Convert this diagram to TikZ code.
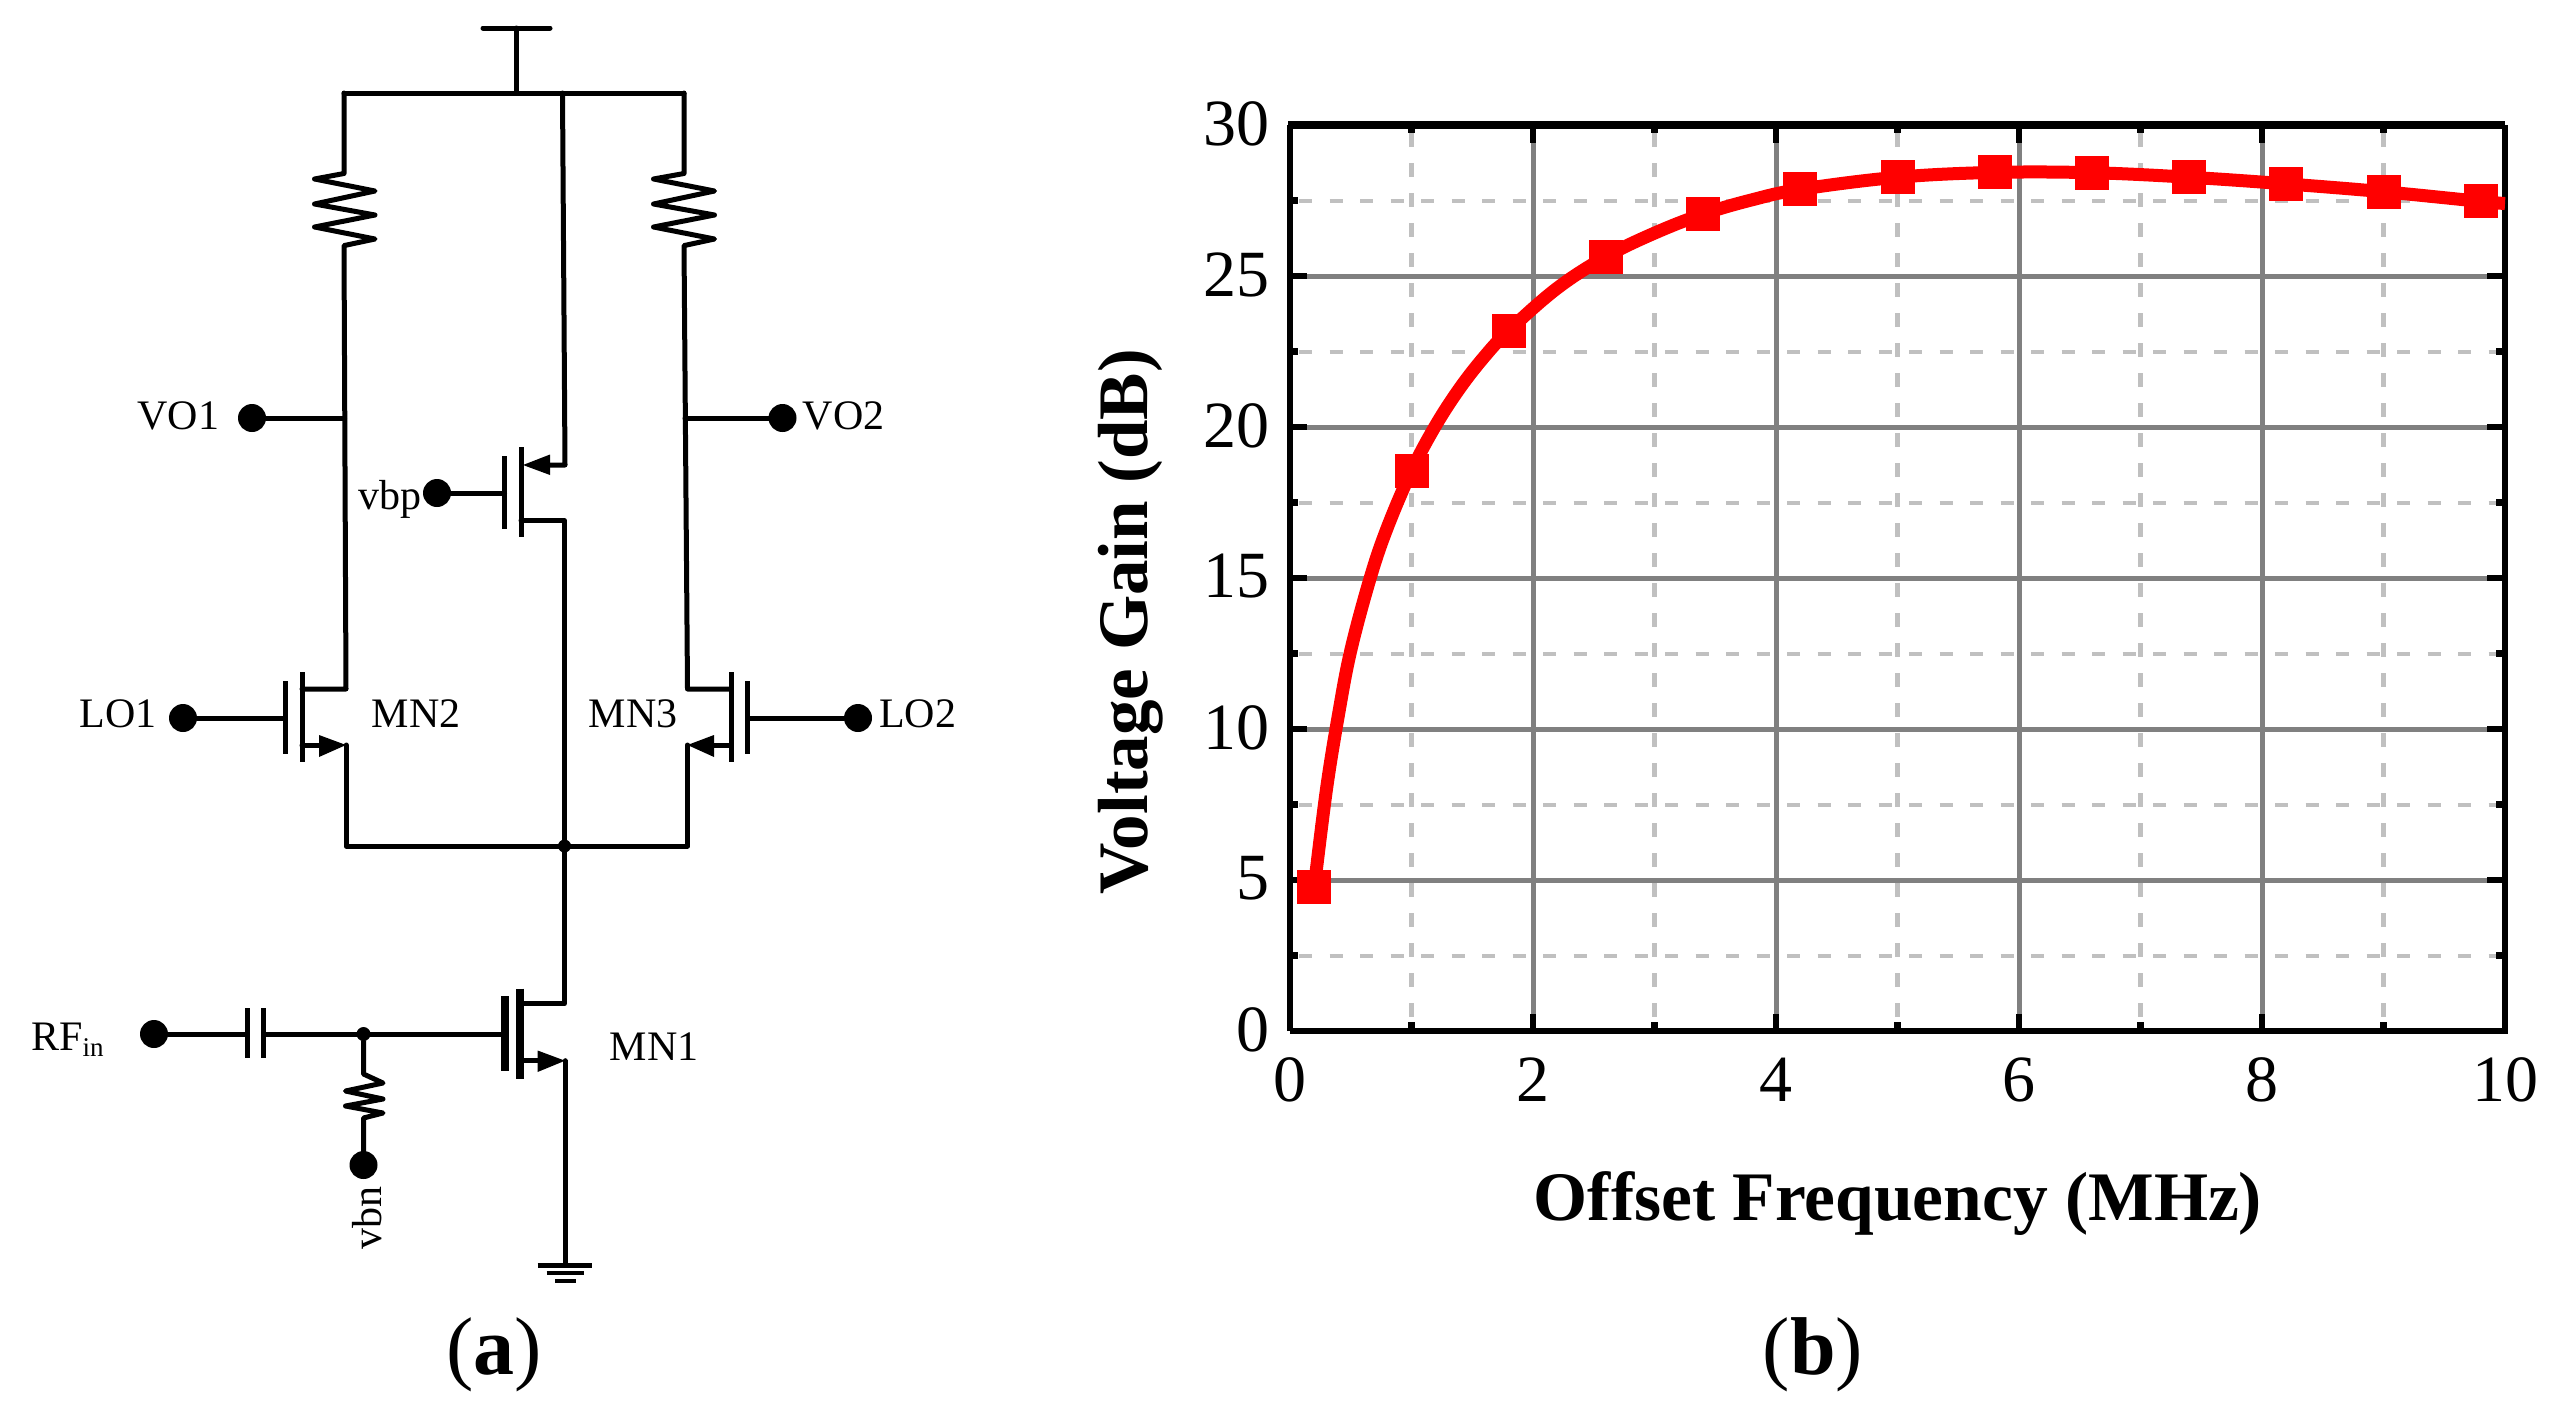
\documentclass[tikz,border=0pt]{standalone}
\usepackage{fontspec}
\setmainfont{Liberation Serif}
\usetikzlibrary{calc}
\definecolor{majgrid}{RGB}{128,128,128}
\definecolor{mingrid}{RGB}{192,192,192}
\definecolor{curvered}{RGB}{255,0,0}
\tikzset{
  wire/.style={line width=5pt,line cap=round,line join=round},
  plate/.style={line width=5pt,line cap=butt},
  thickplate/.style={line width=8pt,line cap=butt},
  termdot/.style={circle,fill=black,draw=none,minimum size=28pt,inner sep=0pt},
  smalldot/.style={circle,fill=black,draw=none,minimum size=14pt,inner sep=0pt},
  lbl/.style={font=\fontsize{42}{42}\selectfont,inner sep=0pt,anchor=base},
  ticklbl/.style={font=\fontsize{66}{66}\selectfont,inner sep=0pt},
  axtitle/.style={font=\fontsize{69.5}{70}\selectfont\bfseries,inner sep=0pt},
  axtitley/.style={font=\fontsize{71}{71}\selectfont\bfseries,inner sep=0pt},
  caption/.style={font=\fontsize{82}{82}\selectfont,inner sep=0pt},
  majorgrid/.style={draw=majgrid,line width=5pt},
  minorgridh/.style={draw=mingrid,line width=4pt,dash pattern=on 13pt off 17.5pt},
  minorgridv/.style={draw=mingrid,line width=4.5pt,dash pattern=on 14pt off 16pt},
  axisline/.style={line width=6pt,line cap=square},
  tickmark/.style={line width=6.5pt},
  curveline/.style={draw=curvered,line width=13pt,line join=round},
  sqmark/.style={rectangle,fill=curvered,draw=none,minimum size=34pt,inner sep=0pt},
  arrowhead/.style={fill=black,draw=none}
}
\begin{document}
\begin{tikzpicture}[x=1pt,y=-1pt]
\useasboundingbox (0,0) rectangle (2559,1416);

% ---------- circuit (a) ----------
% supply
\coordinate (vddl) at (483,28);
\coordinate (vddr) at (550,28);
\coordinate (vddm) at (516,28);
\coordinate (busl) at (344,93);
\coordinate (busr) at (684,93);
\coordinate (busm) at (516,93);
\coordinate (busc) at (562.5,93);
\draw[wire] (vddl) -- (vddr);
\draw[wire] (vddm) -- (busm);
\draw[wire] (busl) -- (busr);

% load resistors
\draw[wire] (busl) -- (344,173.5) -- (314.5,179) -- (375,191) -- (314.5,204) -- (375,215) -- (314.5,227) -- (375,239) -- (344,245.6) -- (346,689) -- (302,689);
\draw[wire] (busr) -- (684,173.5) -- (653.5,179) -- (714.5,191) -- (653.5,204) -- (714.5,215) -- (653.5,227) -- (714.5,239) -- (684,245.6) -- (687.5,689) -- (731,689);

% tail node
\node[smalldot,minimum size=13pt] (tail) at (564.5,846) {};
\draw[wire] (346,745) -- (346,846) -- (687.5,846) -- (687.5,745);

% PMOS
\coordinate (pgate) at (504.5,493);
\node[termdot] (vbpdot) at (437,493) {};
\draw[wire] (vbpdot) -- (pgate);
\draw[plate] (504.5,456) -- (504.5,529);
\draw[plate] (521,447) -- (521,537);
\draw[wire] (busc) -- (565,465) -- (545,465);
\fill[arrowhead] (523,465) -- (550,454.5) -- (550,475) -- cycle;
\draw[wire] (521,520.6) -- (564.5,520.6) -- (tail.center);

% MN2
\node[termdot] (lo1dot) at (183,718) {};
\draw[wire] (lo1dot) -- (285,718);
\draw[plate] (285,681) -- (285,754);
\draw[plate] (302,672) -- (302,762);
\draw[wire] (302,745) -- (325,745);
\fill[arrowhead] (346,745) -- (319,735) -- (319,757) -- cycle;

% MN3
\node[termdot] (lo2dot) at (858,718) {};
\draw[wire] (lo2dot) -- (747.5,718);
\draw[plate] (747.5,681) -- (747.5,754);
\draw[plate] (731,672) -- (731,762);
\draw[wire] (731,745) -- (708,745);
\fill[arrowhead] (687.5,745) -- (714,735) -- (714,757) -- cycle;

% output terminals
\node[termdot] (vo1dot) at (252,418) {};
\node[termdot] (vo2dot) at (782.5,418) {};
\draw[wire] (vo1dot) -- (344.5,418);
\draw[wire] (vo2dot) -- (685,418);

% MN1
\node[termdot] (rfdot) at (154,1034) {};
\node[smalldot] (gnode) at (363.5,1034) {};
\coordinate (capl) at (247,1034);
\coordinate (capr) at (263.5,1034);
\draw[wire] (rfdot) -- (capl);
\draw[plate] (247,1008) -- (247,1058);
\draw[plate] (263.5,1008) -- (263.5,1058);
\draw[wire] (capr) -- (gnode) -- (504.5,1034);
\draw[thickplate] (504.5,996) -- (504.5,1071);
\draw[thickplate] (520,988.6) -- (520,1079);
\draw[wire] (tail.center) -- (564.5,1003.6) -- (520,1003.6);
\draw[wire] (520,1060.7) -- (542,1060.7);
\fill[arrowhead] (565,1060.7) -- (537.6,1050.5) -- (537.6,1072) -- cycle;
\coordinate (gndtop) at (565,1265);
\draw[wire] (565,1060.7) -- (gndtop);
\draw[line width=5pt] (537.6,1265) -- (592,1265);
\draw[line width=4.5pt] (546.5,1273) -- (584,1273);
\draw[line width=4.5pt] (555,1281) -- (576,1281);

% bias resistor
\node[termdot] (vbndot) at (363.5,1165) {};
\draw[wire] (gnode) -- (363.5,1074) -- (383,1083) -- (345.5,1091) -- (383,1099) -- (345.5,1106) -- (383,1113) -- (363.5,1118) -- (vbndot);

% circuit labels
\node[lbl] (tvo1) at (178.5,429) {VO1};
\node[lbl] (tvo2) at (843.5,429) {VO2};
\node[lbl] (tvbp) at (390,509) {vbp};
\node[lbl] (tlo1) at (118,727) {LO1};
\node[lbl] (tlo2) at (917.5,727) {LO2};
\node[lbl] (tmn2) at (416,727) {MN2};
\node[lbl] (tmn3) at (633,727) {MN3};
\node[lbl] (tmn1) at (654,1060) {MN1};
\node[lbl,anchor=base west] (trf) at (31,1050) {RF{\fontsize{27}{27}\selectfont\raisebox{-6pt}{in}}};
\node[lbl,rotate=90] (tvbn) at (381,1218) {vbn};
\node[caption] (capa) at (494,1355) {(\textbf{a})};

% ---------- plot (b) ----------
\foreach \u in {1,3,5,7,9}
  \draw[minorgridv] ({1290+121.5*\u},133) -- ({1290+121.5*\u},1022);
\foreach \g in {2.5,7.5,...,27.5}
  \draw[minorgridh] (1299,{1031-30.2*\g}) -- (2496,{1031-30.2*\g});
\foreach \u in {2,4,6,8}
  \draw[majorgrid] ({1290+121.5*\u},143) -- ({1290+121.5*\u},1014);
\foreach \g in {5,10,...,25}
  \draw[majorgrid] (1307,{1031-30.2*\g}) -- (2487,{1031-30.2*\g});

% ticks
\foreach \u in {2,4,6,8} {
  \draw[tickmark] ({1290+121.5*\u},125) -- ({1290+121.5*\u},143);
  \draw[tickmark] ({1290+121.5*\u},1031) -- ({1290+121.5*\u},1014);
}
\foreach \u in {1,3,5,7,9} {
  \draw[tickmark] ({1290+121.5*\u},125) -- ({1290+121.5*\u},133);
  \draw[tickmark] ({1290+121.5*\u},1031) -- ({1290+121.5*\u},1022);
}
\foreach \g in {5,10,...,25} {
  \draw[tickmark] (1290,{1031-30.2*\g}) -- (1307,{1031-30.2*\g});
  \draw[tickmark] (2505,{1031-30.2*\g}) -- (2487,{1031-30.2*\g});
}
\foreach \g in {2.5,7.5,...,27.5} {
  \draw[tickmark] (1290,{1031-30.2*\g}) -- (1298,{1031-30.2*\g});
  \draw[tickmark] (2505,{1031-30.2*\g}) -- (2496,{1031-30.2*\g});
}
% frame
\draw[axisline] (1290,1031) -- (2505,1031) -- (2505,125);
\draw[axisline] (1290,1031) -- (1290,125);
\draw[line width=7.5pt] (1288,125) -- (2505,125);

% curve
\begin{scope}[shift={(1290,1031)},x=121.5pt,y=30.2pt]
\draw[curveline] plot[smooth,tension=.6] coordinates {(0.2,4.77) (0.3,8.0) (0.4,10.5) (0.5,12.6) (0.66,15) (0.8,16.66) (1,18.55) (1.2,20.06) (1.4,21.3) (1.6,22.33) (1.8,23.19) (2.2,24.6) (2.6,25.64) (3,26.42) (3.4,27.05) (3.8,27.52) (4.2,27.87) (5,28.27) (5.8,28.43) (6.6,28.42) (7.4,28.27) (8.2,28.05) (9,27.79) (9.8,27.47) (10,27.4)};
\foreach \i/\xv/\yv in {1/0.2/4.77,2/1/18.55,3/1.8/23.19,4/2.6/25.64,5/3.4/27.05,6/4.2/27.87,7/5/28.27,8/5.8/28.43,9/6.6/28.42,10/7.4/28.27,11/8.2/28.05,12/9/27.79,13/9.8/27.47}
  \node[sqmark] (m\i) at (\xv,\yv) {};
\end{scope}

% tick labels
\foreach \g in {0,5,...,30}
  \node[ticklbl,anchor=east] (y\g) at (1270,{1029.5-30.2*\g}) {\g};
\foreach \u in {0,2,...,10}
  \node[ticklbl] (x\u) at ({1290+121.5*\u},1080) {\u};

\node[axtitle] (xtitle) at (1898,1204) {Offset Frequency (MHz)};
\node[axtitley,rotate=90] (ytitle) at (1131,622) {Voltage Gain (dB)};
\node[caption] (capb) at (1813,1355) {(\textbf{b})};
\end{tikzpicture}
\end{document}
